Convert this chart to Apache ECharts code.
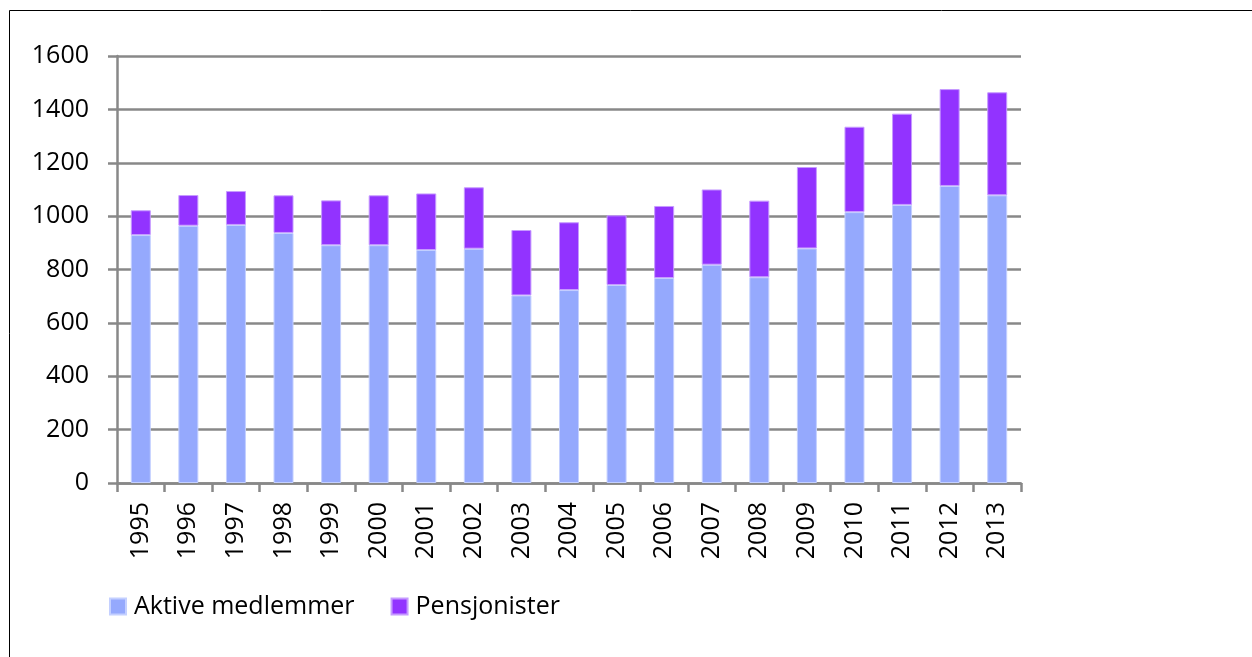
<!DOCTYPE html>
<html><head><meta charset="utf-8">
<script src="https://cdn.jsdelivr.net/npm/echarts@6/dist/echarts.min.js"></script>
<style>html,body{margin:0;padding:0;background:#fff}#c{width:1252px;height:657px}</style>
</head><body><div id="c"></div>
<script>
var years = ['1995','1996','1997','1998','1999','2000','2001','2002','2003','2004','2005','2006','2007','2008','2009','2010','2011','2012','2013'];
var aktive = [929, 964, 967, 937, 891, 891, 873, 878, 703, 723, 742, 768, 818, 771, 879, 1015, 1042, 1113, 1078];
var pensjonister = [93, 115, 127, 141, 168, 187, 212, 230, 245, 254, 261, 270, 282, 287, 305, 320, 342, 363, 386];
var yTicks = [0, 200, 400, 600, 800, 1000, 1200, 1400, 1600];

var chart = echarts.init(document.getElementById('c'), null, {renderer: 'canvas'});
var font = 'Open Sans';
chart.setOption({
  animation: false,
  backgroundColor: '#fff',
  graphic: [
    {type: 'line', shape: {x1: 9.5, y1: 10.5, x2: 1252, y2: 10.5}, style: {stroke: '#000', lineWidth: 1}},
    {type: 'line', shape: {x1: 9.5, y1: 10.5, x2: 9.5, y2: 657}, style: {stroke: '#000', lineWidth: 1}}
  ],
  grid: {left: 117, right: 231, top: 56, bottom: 174, containLabel: false},
  legend: {
    left: 104, top: 589, itemWidth: 16, itemHeight: 16, itemGap: 36,
    icon: 'rect',
    textStyle: {fontFamily: font, fontSize: 25, color: '#000', padding: [0, 0, 0, 3]},
    data: ['Aktive medlemmer', 'Pensjonister']
  },
  xAxis: {
    type: 'category', data: years,
    axisLine: {lineStyle: {color: '#888', width: 2.5}},
    axisTick: {show: true, length: 9, lineStyle: {color: '#888', width: 2.5}},
    axisLabel: {rotate: 90, fontFamily: font, fontSize: 25, color: '#000', margin: 19}
  },
  yAxis: {
    type: 'value', min: 0, max: 1600, interval: 200,
    axisLine: {show: true, lineStyle: {color: '#888', width: 2.5}},
    axisTick: {show: true, length: 9, lineStyle: {color: '#888', width: 2.5}},
    splitLine: {lineStyle: {color: '#888', width: 2.5}},
    axisLabel: {fontFamily: font, fontSize: 25, color: '#000', margin: 28,
      formatter: function(v){ return yTicks.indexOf(v) >= 0 ? String(v) : ''; }}
  },
  series: [
    {name: 'Aktive medlemmer', type: 'bar', stack: 't', data: aktive, barWidth: 20,
     itemStyle: {color: '#95A9FD', borderColor: '#C4D0FF', borderWidth: 1}},
    {name: 'Pensjonister', type: 'bar', stack: 't', data: pensjonister, barWidth: 20,
     itemStyle: {color: '#9233FF', borderColor: '#C69BFF', borderWidth: 1}}
  ]
});
</script></body></html>
